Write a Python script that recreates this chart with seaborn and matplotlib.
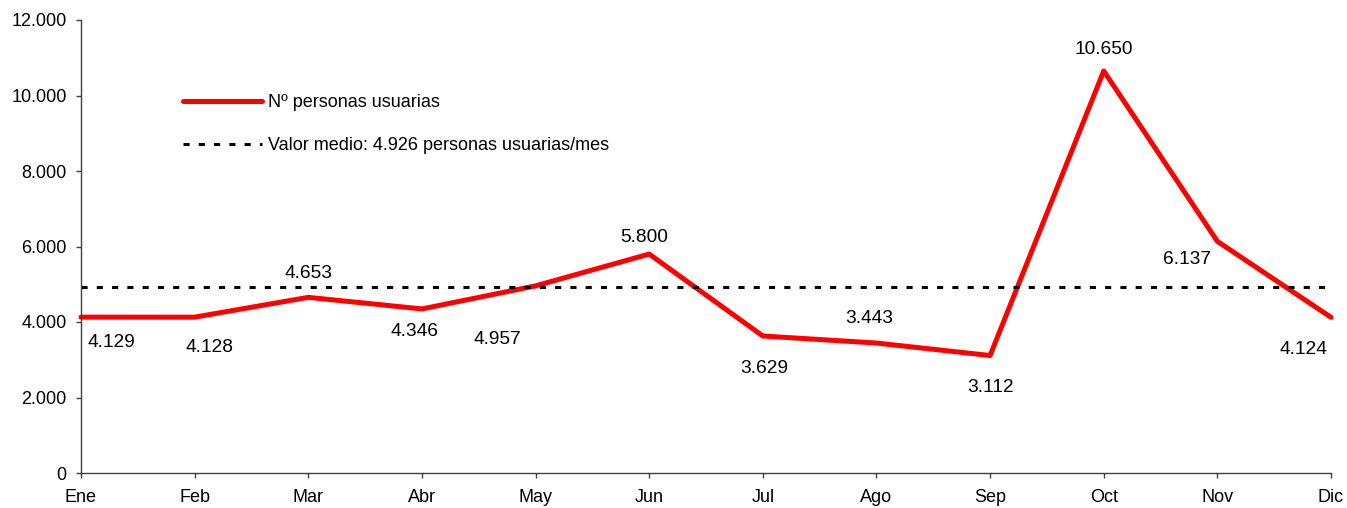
import matplotlib
matplotlib.use("Agg")
import matplotlib.pyplot as plt
import matplotlib.ticker as mticker
import seaborn as sns
import pandas as pd

months = ["Ene", "Feb", "Mar", "Abr", "May", "Jun", "Jul", "Ago", "Sep", "Oct", "Nov", "Dic"]
usuarios = [4129, 4128, 4653, 4346, 4957, 5800, 3629, 3443, 3112, 10650, 6137, 4124]
valor_medio = 4926
series_label = "Nº personas usuarias"
mean_label = "Valor medio: 4.926 personas usuarias/mes"

# label offsets in pixels (style only)
label_offsets = [(30, -25), (15, -30), (0, 24), (-7, -23), (-38, -54), (-5, 17),
                 (1, -32), (-7, 25), (0, -32), (0, 21), (-30, -18), (-28, -32)]

sns.set_theme(style="white")
plt.rcParams["font.family"] = ["Liberation Sans", "DejaVu Sans"]
plt.rcParams["text.color"] = "black"

fig = plt.figure(figsize=(13.47, 5.08), dpi=100)
ax = fig.add_axes([81 / 1347, 1 - 473 / 508, (1331 - 81) / 1347, (473 - 20) / 508])

df = pd.DataFrame({"x": range(len(months)), "y": usuarios})
sns.lineplot(data=df, x="x", y="y", ax=ax, color="#FF0000", linewidth=3.6,
             label=series_label, clip_on=False)
ax.axhline(valor_medio, color="black", linestyle=(0, (2.0, 3.0)), linewidth=2.2,
           label=mean_label)

fmt = lambda v: f"{v:,.0f}".replace(",", ".")
for i, (v, off) in enumerate(zip(usuarios, label_offsets)):
    ax.annotate(fmt(v), (i, v), xytext=off, textcoords="offset pixels",
                ha="center", va="center", fontsize=13.8, color="black")

ax.set_xlim(0, len(months) - 1)
ax.set_ylim(0, 12000)
ax.set_xticks(range(len(months)))
ax.set_xticklabels(months)
ax.set_yticks(range(0, 12001, 2000))
ax.yaxis.set_major_formatter(mticker.FuncFormatter(lambda v, p: fmt(v)))
ax.set_xlabel("")
ax.set_ylabel("")
ax.tick_params(axis="both", which="both", direction="out", length=3.8, width=1,
               color="#404040", labelsize=13, labelcolor="black")
ax.tick_params(axis="x", pad=8.0)
ax.tick_params(axis="y", pad=6.5)
ax.xaxis.set_ticks_position("bottom")
ax.yaxis.set_ticks_position("left")
for s in ["top", "right"]:
    ax.spines[s].set_visible(False)
for s in ["left", "bottom"]:
    ax.spines[s].set_color("#404040")
    ax.spines[s].set_linewidth(1)

leg = ax.legend(loc="upper left", bbox_to_anchor=((183 - 81) / 1250, (473 - 94) / 453),
                frameon=False, fontsize=13, handlelength=4.4, handletextpad=0.3,
                labelspacing=1.45, borderpad=0, borderaxespad=0)
for t in leg.get_texts():
    t.set_color("black")

fig.savefig("out.png", dpi=100)
